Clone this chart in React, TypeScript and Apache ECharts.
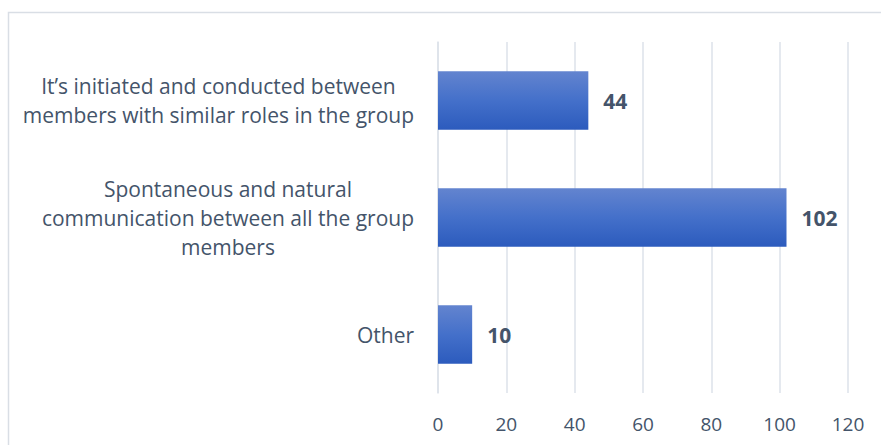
import React, { useEffect, useRef } from "react";
import * as echarts from "echarts";

const categories = [
  "It\u2019s initiated and conducted between\nmembers with similar roles in the group",
  "Spontaneous and natural\ncommunication between all the group\nmembers",
  "Other",
];
const values = [44, 102, 10];
const xTicks = { min: 0, max: 120, interval: 20 };

export default function App() {
  const ref = useRef<HTMLDivElement>(null);
  useEffect(() => {
    if (!ref.current) return;
    const chart = echarts.init(ref.current, null, { renderer: "svg" });
    const textColor = "#44546A";
    chart.setOption({
      animation: false,
      backgroundColor: "#ffffff",
      textStyle: { fontFamily: "Open Sans" },
      graphic: [
        {
          type: "rect",
          shape: { x: 8.5, y: 12.5, width: 900, height: 460 },
          style: { fill: "none", stroke: "#D9DEE5", lineWidth: 1.5 },
          silent: true,
        },
      ],
      grid: { left: 438, right: 33, top: 42, bottom: 52 },
      xAxis: {
        type: "value",
        min: xTicks.min,
        max: xTicks.max,
        interval: xTicks.interval,
        axisLine: { show: false },
        axisTick: { show: false },
        splitLine: { lineStyle: { color: "#DDE2EA", width: 1.5 } },
        axisLabel: { color: textColor, fontSize: 19, margin: 21, fontFamily: "Open Sans" },
      },
      yAxis: {
        type: "category",
        inverse: true,
        data: categories,
        axisLine: { show: true, lineStyle: { color: "#DDE2EA", width: 1.5 } },
        axisTick: { show: false },
        axisLabel: {
          color: textColor,
          fontSize: 21,
          lineHeight: 29,
          align: "right",
          margin: 24,
          fontFamily: "Open Sans",
          formatter: (v: string) =>
            v
              .split("\n")
              .map((l) => "{c|" + l + "}")
              .join("\n"),
          rich: {
            c: {
              align: "center",
              color: textColor,
              fontSize: 21,
              lineHeight: 29,
              fontFamily: "Open Sans",
            },
          },
        },
      },
      series: [
        {
          type: "bar",
          data: values,
          barCategoryGap: "50%",
          itemStyle: {
            color: new echarts.graphic.LinearGradient(0, 0, 0, 1, [
              { offset: 0, color: "#6384CF" },
              { offset: 0.5, color: "#4470CA" },
              { offset: 1, color: "#2C5BBD" },
            ]),
          },
          label: {
            show: true,
            position: "right",
            distance: 15,
            color: textColor,
            fontSize: 21,
            fontWeight: "bold",
            fontFamily: "Open Sans",
          },
        },
      ],
    });
    return () => chart.dispose();
  }, []);
  return (
    <div
      ref={ref}
      style={{ position: "absolute", left: 0, top: 0, width: 881, height: 445 }}
    />
  );
}
